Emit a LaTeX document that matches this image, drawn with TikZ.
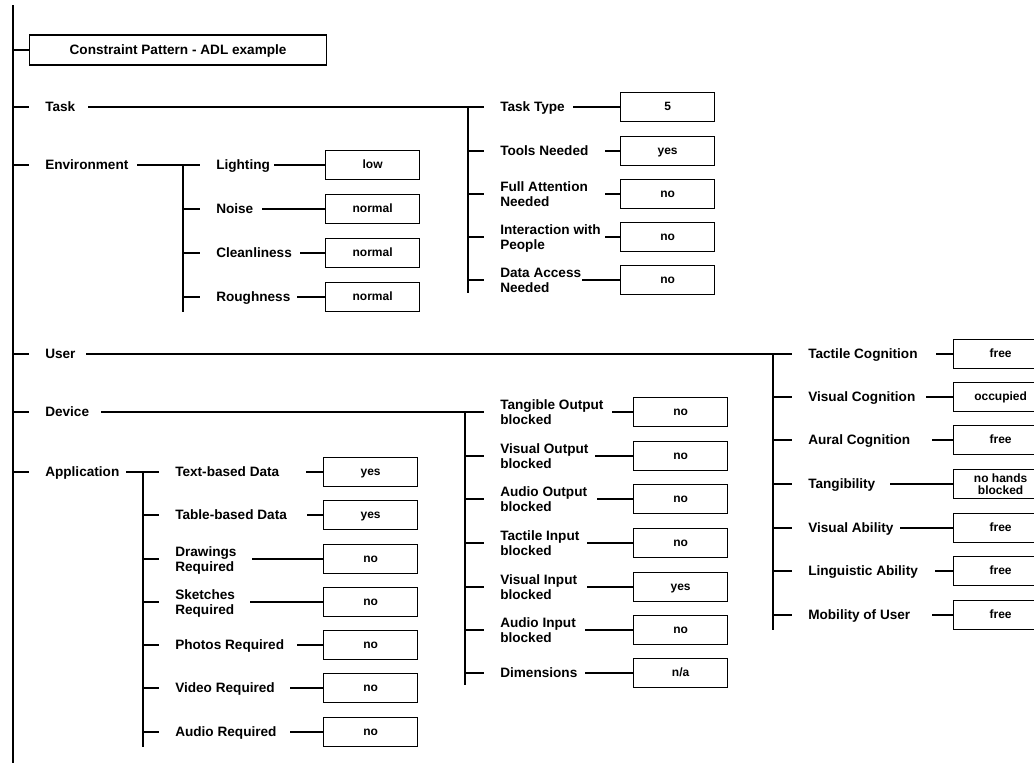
\documentclass[tikz,border=0pt]{standalone}
\usepackage{fontspec}
\setmainfont{Liberation Sans}
\usetikzlibrary{calc}

% one leaf row: name, y, bar x, label x, connector start x, box x, label, value, extra box style
\newcommand\leafrow[9]{%
  \node[lbl] (#1) at (#4,#2) {#7};
  \node[val,#9] (#1-v) at (#6,#2) {#8};
  \coordinate (#1-s) at (#5,#2);
  \draw[link, shorten >=12pt] (#3,#2) -- (#1.west);
  \draw[link] (#1-s) -- (#1-v.west);
}

\begin{document}
\begin{tikzpicture}[x=0.75pt,y=-0.75pt,
  trunk/.style={line width=1.7pt},
  link/.style={line width=1.4pt},
  lbl/.style={anchor=west,inner sep=0pt,align=left,text depth=0pt,
    font=\bfseries\fontsize{10.2}{11.5}\selectfont},
  valbox/.style={draw,anchor=west,line width=0.9pt,minimum width=70.5pt,
    minimum height=21.75pt,inner sep=0pt,align=center,
    font=\bfseries\fontsize{9}{9.4}\selectfont},
  val/.style={valbox,text height=6.4pt,text depth=1.4pt},
  twoline/.style={text height=, text depth=},
  ]
\useasboundingbox (0,0) rectangle (1034,775);
\clip (0,0) rectangle (1034,775);

% spine
\coordinate (spine-top) at (13,5);
\coordinate (spine-bot) at (13,763);
\draw[trunk] (spine-top) -- (spine-bot);

% title
\node[draw,anchor=west,line width=0.9pt,minimum width=222.75pt,minimum height=22.5pt,
  inner sep=0pt,text height=7.4pt,text depth=0pt,
  font=\bfseries\fontsize{10.2}{11.5}\selectfont]
  (title) at (29,50) {Constraint Pattern - ADL example};
\draw[link] (spine-top |- title.west) -- (title.west);

% first-level branches
\node[lbl] (task) at (45,107) {Task};
\node[lbl] (env)  at (45,165) {Environment};
\node[lbl] (user) at (45,354) {User};
\node[lbl] (dev)  at (45,412) {Device};
\node[lbl] (app)  at (45,472) {Application};
\foreach \n in {task,env,user,dev,app}
  \draw[link, shorten >=12pt] (spine-top |- \n.west) -- (\n.west);

% ---- Task
\leafrow{tt}{107}{468}{500}{573}{620}{Task Type}{5}{}
\leafrow{tn}{151}{468}{500}{605}{620}{Tools Needed}{yes}{}
\leafrow{fa}{194}{468}{500}{605}{620}{Full Attention\\Needed}{no}{}
\leafrow{ip}{237}{468}{500}{605}{620}{Interaction with\\People}{no}{}
\leafrow{da}{280}{468}{500}{582}{620}{Data Access\\Needed}{no}{}
\coordinate (task-s) at (88,107);
\draw[link, shorten >=12.75pt] (task-s) -- (tt.west);
\draw[trunk] (468,107) -- (468,293);

% ---- Environment
\leafrow{li}{165}{183}{216}{274}{325}{Lighting}{low}{}
\leafrow{no}{209}{183}{216}{262}{325}{Noise}{normal}{}
\leafrow{cl}{253}{183}{216}{300}{325}{Cleanliness}{normal}{}
\leafrow{ro}{297}{183}{216}{297}{325}{Roughness}{normal}{}
\coordinate (env-s) at (137,165);
\draw[link, shorten >=12pt] (env-s) -- (li.west);
\draw[trunk] (183,165) -- (183,312);

% ---- User
\leafrow{tc}{354}{773}{808}{936}{953}{Tactile Cognition}{free}{}
\leafrow{vc}{397}{773}{808}{926}{953}{Visual Cognition}{occupied}{}
\leafrow{ac}{440}{773}{808}{932}{953}{Aural Cognition}{free}{}
\leafrow{tg}{484}{773}{808}{890}{953}{Tangibility}{no hands\\blocked}{twoline}
\leafrow{va}{528}{773}{808}{900}{953}{Visual Ability}{free}{}
\leafrow{la}{571}{773}{808}{935}{953}{Linguistic Ability}{free}{}
\leafrow{mu}{615}{773}{808}{932}{953}{Mobility of User}{free}{}
\coordinate (user-s) at (86,354);
\draw[link, shorten >=12pt] (user-s) -- (tc.west);
\draw[trunk] (773,354) -- (773,630);

% ---- Device
\leafrow{to}{412}{465}{500}{612}{633}{Tangible Output\\blocked}{no}{}
\leafrow{vo}{456}{465}{500}{595}{633}{Visual Output\\blocked}{no}{}
\leafrow{ao}{499}{465}{500}{597}{633}{Audio Output\\blocked}{no}{}
\leafrow{ti}{543}{465}{500}{587}{633}{Tactile Input\\blocked}{no}{}
\leafrow{vi}{587}{465}{500}{587}{633}{Visual Input\\blocked}{yes}{}
\leafrow{ai}{630}{465}{500}{585}{633}{Audio Input\\blocked}{no}{}
\leafrow{dm}{673}{465}{500}{585}{633}{Dimensions}{n/a}{}
\coordinate (dev-s) at (101,412);
\draw[link, shorten >=13.5pt] (dev-s) -- (to.west);
\draw[trunk] (465,412) -- (465,685);

% ---- Application
\leafrow{tx}{472}{143}{175}{306}{323}{Text-based Data}{yes}{}
\leafrow{tb}{515}{143}{175}{307}{323}{Table-based Data}{yes}{}
\leafrow{dr}{559}{143}{175}{252}{323}{Drawings\\Required}{no}{}
\leafrow{sk}{602}{143}{175}{250}{323}{Sketches\\Required}{no}{}
\leafrow{ph}{645}{143}{175}{297}{323}{Photos Required}{no}{}
\leafrow{vd}{688}{143}{175}{290}{323}{Video Required}{no}{}
\leafrow{au}{732}{143}{175}{290}{323}{Audio Required}{no}{}
\coordinate (app-s) at (126,472);
\draw[link, shorten >=12.75pt] (app-s) -- (tx.west);
\draw[trunk] (143,472) -- (143,747);
\end{tikzpicture}
\end{document}
